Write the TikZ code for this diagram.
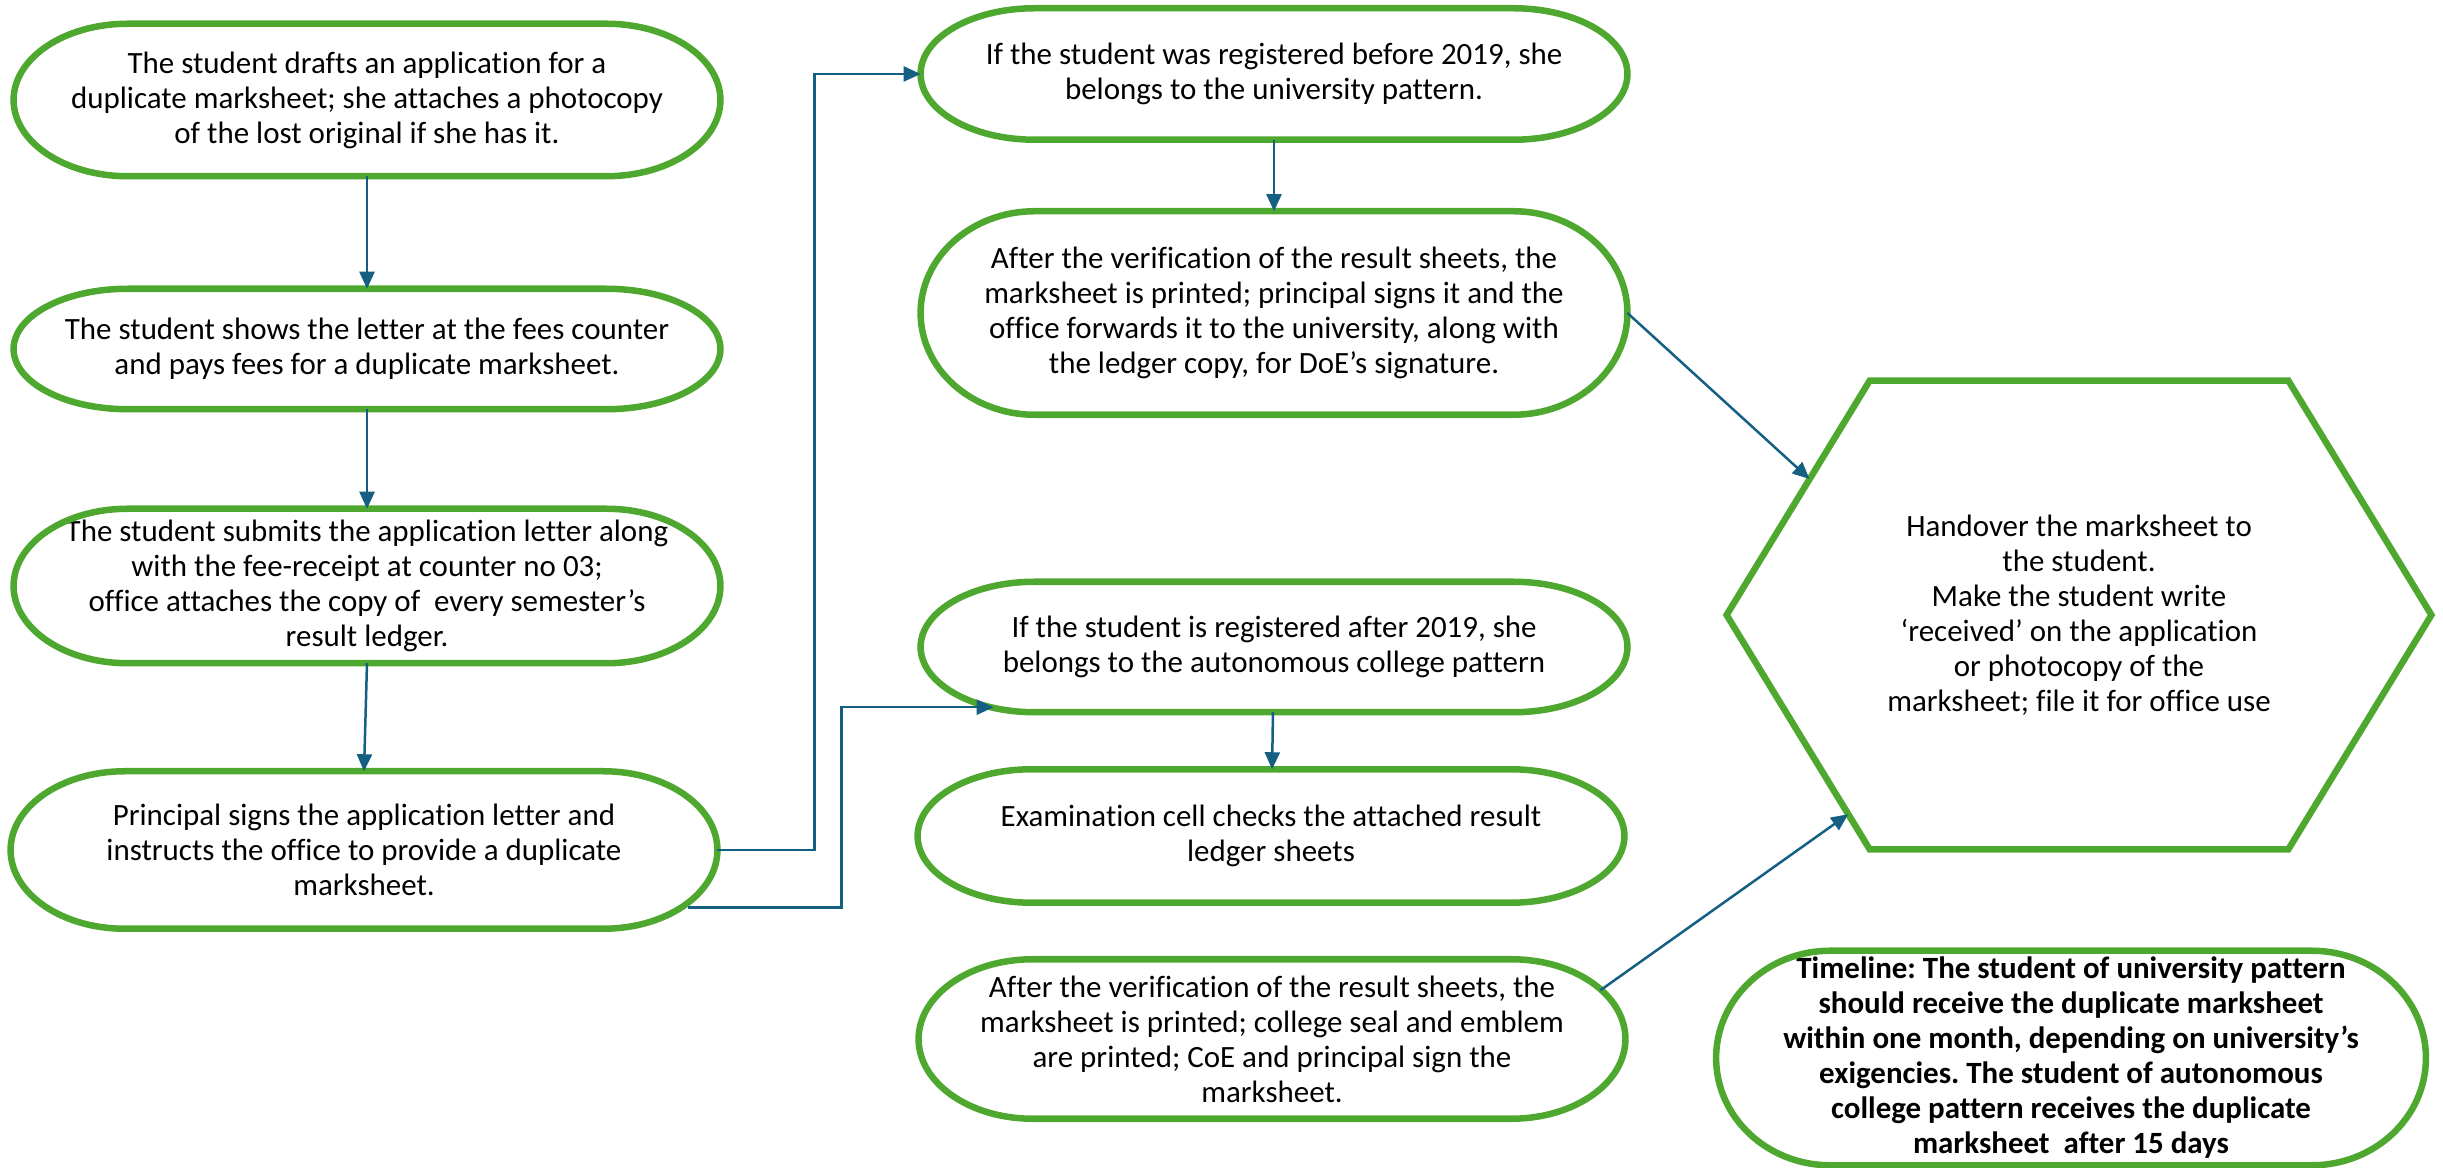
\documentclass[tikz,border=0pt]{standalone}
\usepackage{fontspec}
\setmainfont{Carlito}[Ligatures=NoCommon]
\usepackage{tikz}
\usetikzlibrary{calc,arrows.meta}
\definecolor{termgreen}{HTML}{4EA72E}
\definecolor{linkblue}{HTML}{156082}
\frenchspacing

\begin{document}
\begin{tikzpicture}[x=0.01cm,y=-0.01cm,
    box/.style={minimum width=7.05cm,inner sep=0pt,align=center,font=\fontsize{8.8}{9.96}\selectfont},
    rim/.style={draw=termgreen,line width=0.065cm},
    link/.style={draw=linkblue,line width=0.025cm,-{Triangle[length=0.17cm,width=0.15cm]}}]
    \useasboundingbox (0,0) rectangle (2443,1168);
    \node [box,minimum height=1.51cm] (1) at (367,100) {
      The student drafts an application for a\\duplicate marksheet; she attaches a photocopy\\of the lost original if she has it.
    };
    \node [box,minimum height=1.19cm] (2) at (367,349) {
      The student shows the letter at the fees counter\\and pays fees for a duplicate marksheet.
    };
    \node [box,minimum height=1.53cm] (3) at (367,586) {
      The student submits the application letter along\\with the fee-receipt at counter no 03;\\office attaches the copy of ~every semester’s\\result ledger.
    };
    \node [box,minimum height=1.56cm] (4) at (364,850) {
      Principal signs the application letter and\\instructs the office to provide a duplicate\\marksheet.
    };
    \node [box,minimum height=1.30cm] (5) at (1274,74) {
      If the student was registered before 2019, she\\belongs to the university pattern.
    };
    \node [box,minimum height=2.02cm] (6) at (1274,313) {
      After the verification of the result sheets, the\\marksheet is printed; principal signs it and the\\office forwards it to the university, along with\\the ledger copy, for DoE’s signature.
    };
    \node [box,minimum height=1.29cm] (7) at (1274,647) {
      If the student is registered after 2019, she\\belongs to the autonomous college pattern
    };
    \node [box,minimum height=1.32cm] (8) at (1271,836) {
      Examination cell checks the attached result\\ledger sheets
    };
    \node [box,minimum height=1.58cm] (9) at (1272,1039) {
      After the verification of the result sheets, the\\marksheet is printed; college seal and emblem\\are printed; CoE and principal sign the\\marksheet.
    };
    \node [box,minimum width=7.03cm,minimum height=4.67cm] (10) at (2079,615) {
      Handover the marksheet to\\the student.\\Make the student write\\‘received’ on the application\\or photocopy of the\\marksheet; file it for office use
    };
    \node [box,minimum width=7.08cm,minimum height=2.13cm,font=\fontsize{8.8}{9.96}\selectfont\bfseries] (11) at (2071,1058) {
      Timeline: The student of university pattern\\should receive the duplicate marksheet\\within one month, depending on university’s\\exigencies. The student of autonomous\\college pattern receives the duplicate\\marksheet ~after 15 days
    };
    \foreach \k in {1,2,3,4,5,6,7,8,9,11}
      \draw [rim] let \p1=(\k.north east), \p2=(\k.south west), \n1={(\y1-\y2)/2} in
        (\x2+1.14cm,\y1) -- (\x1-1.14cm,\y1) arc [start angle=90,end angle=-90,x radius=1.14cm,y radius=\n1]
        -- (\x2+1.14cm,\y2) arc [start angle=270,end angle=90,x radius=1.14cm,y radius=\n1] -- cycle;
    \draw [rim] (10.west) -- ([xshift=1.43cm]10.north west) -- ([xshift=-1.43cm]10.north east) -- (10.east)
      -- ([xshift=-1.43cm]10.south east) -- ([xshift=1.43cm]10.south west) -- cycle;
    \draw [link] (1) -- (2);
    \draw [link] (2) -- (3);
    \draw [link] (3.south) -- (4.north);
    \draw [link] (5) -- (6);
    \draw [link] (7) -- (8);
    \draw [link] (4.east) -- ++(97,0) |- (5.west);
    \draw [link] ([shift={(-29,-21)}]4.south east) -- ++(153,0) |- ([shift={(73,-5)}]7.south west);
    \draw [link] (6.east) -- ($(10.west)!0.58!([xshift=1.43cm]10.north west)$);
    \draw [link] ([shift={(-25,31)}]9.north east) -- ($(10.west)!0.85!([xshift=1.43cm]10.south west)$);
  \end{tikzpicture}
\end{document}
